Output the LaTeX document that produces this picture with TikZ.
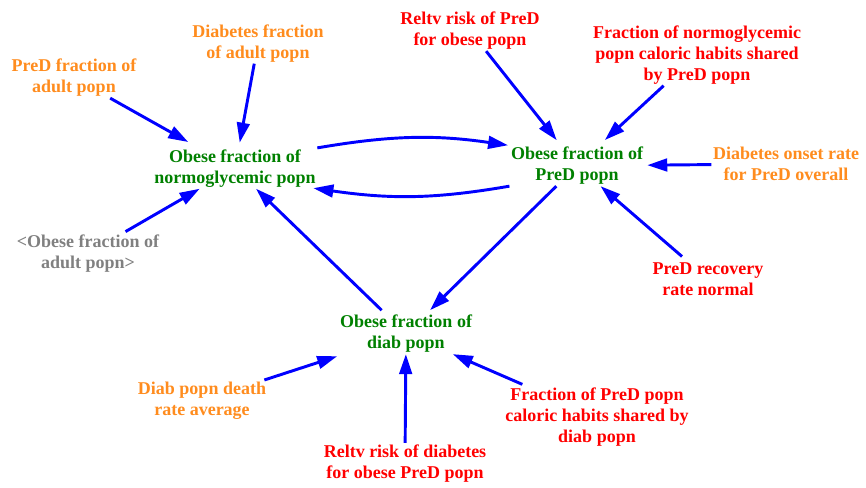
\documentclass[tikz,border=0pt]{standalone}
\usepackage{fontspec}
\setmainfont{Liberation Serif}
\usetikzlibrary{arrows.meta}
\definecolor{vargreen}{RGB}{0,128,0}
\definecolor{varorange}{RGB}{255,140,30}
\definecolor{varred}{RGB}{255,0,0}
\definecolor{vargray}{RGB}{128,128,128}
\definecolor{linkblue}{RGB}{0,0,255}
\begin{document}
\begin{tikzpicture}[x=0.75pt,y=0.75pt,
  varbase/.style={align=center, inner sep=1pt,
    font=\fontsize{13.5}{15.75}\selectfont\bfseries},
  stockvar/.style={varbase, text=vargreen},
  inputvar/.style={varbase, text=varorange},
  factorvar/.style={varbase, text=varred},
  ghostvar/.style={varbase, text=vargray},
  flowarrow/.style={draw=linkblue, line width=2.2pt,
    -{Triangle[length=15pt,width=9.5pt]}},
]
\useasboundingbox (0,0) rectangle (866,-487);

% central stocks
\node[stockvar] (normo) at (235,-168.3) {Obese fraction of\\normoglycemic popn};
\node[stockvar] (pred)  at (577,-165.8) {Obese fraction of\\PreD popn};
\node[stockvar] (diab)  at (406,-333.8) {Obese fraction of\\diab popn};

% inputs
\node[inputvar] (dfa) at (258,-43.3) {Diabetes fraction\\of adult popn};
\node[inputvar] (pfa) at (74,-77.8) {PreD fraction of\\adult popn};
\node[ghostvar] (ofa) at (88,-253.3) {<Obese fraction of\\adult popn>};
\node[factorvar] (rrp) at (470,-30.8) {Reltv risk of PreD\\for obese popn};
\node[factorvar] (fnc) at (697,-54.8) {Fraction of normoglycemic\\popn caloric habits shared\\by PreD popn};
\node[inputvar] (don) at (786,-163.9) {Diabetes onset rate\\for PreD overall};
\node[factorvar] (prr) at (708,-278.9) {PreD recovery\\rate normal};
\node[inputvar] (ddr) at (202,-400.3) {Diab popn death\\rate average};
\node[factorvar] (fpc) at (597,-416.8) {Fraction of PreD popn\\caloric habits shared by\\diab popn};
\node[factorvar] (rrd) at (405,-463.3) {Reltv risk of diabetes\\for obese PreD popn};

% links into the normoglycemic stock
\draw[flowarrow, shorten >=9pt] (pfa) -- (normo);
\draw[flowarrow, shorten >=4pt] (dfa) -- (normo);
\draw[flowarrow, shorten <=2pt] (ofa) -- (normo);

% exchange between normoglycemic and PreD stocks
\draw[flowarrow, shorten >=1pt] (normo.north east) to[bend left=9] (pred.north west);
\draw[flowarrow, shorten >=-3pt] (pred.south west) to[bend left=9] (normo.south east);

% links into the PreD stock
\draw[flowarrow, shorten >=5pt] (rrp) -- (pred);
\draw[flowarrow, shorten >=6pt] (fnc) -- (pred);
\draw[flowarrow, shorten >=2pt] (don) -- (pred);
\draw[flowarrow, shorten <=5pt] (prr) -- (pred);

% links around the diabetic stock
\draw[flowarrow, shorten >=3.5pt] (pred) -- (diab);
\draw[flowarrow, shorten <=3.5pt] (diab) -- (normo);
\draw[flowarrow, shorten >=5pt] (ddr) -- (diab);
\draw[flowarrow] (rrd) -- (diab);
\draw[flowarrow, shorten <=3pt] (fpc) -- (diab);
\end{tikzpicture}
\end{document}
